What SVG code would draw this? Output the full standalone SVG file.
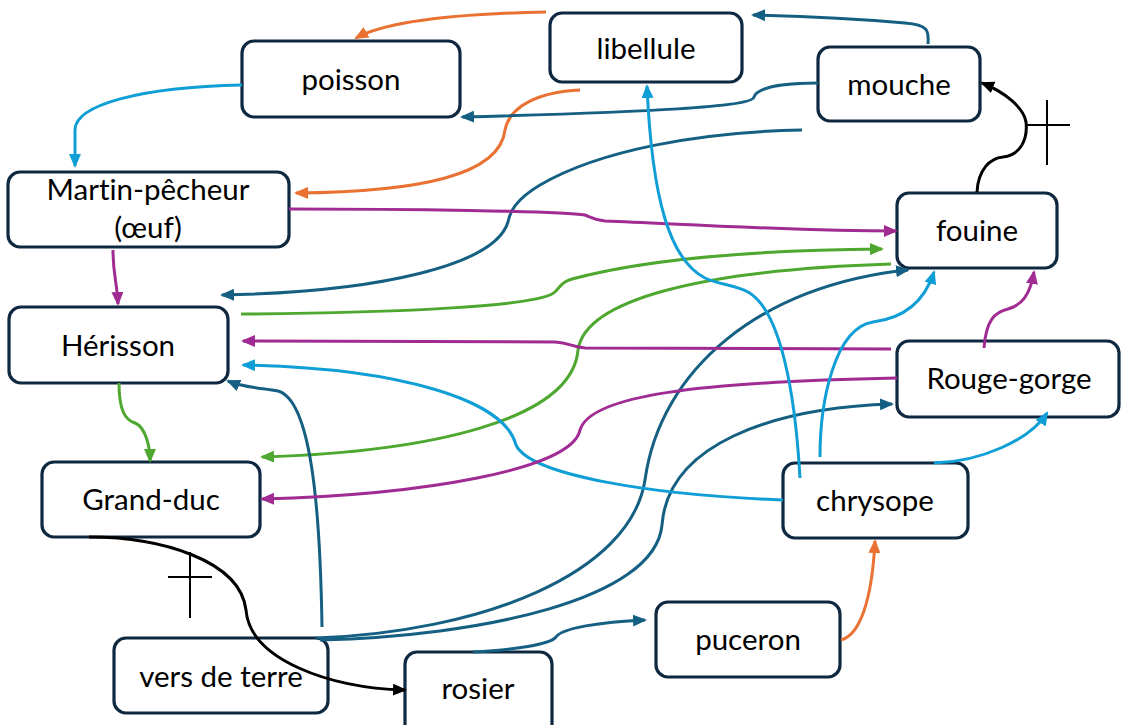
<svg xmlns="http://www.w3.org/2000/svg" width="1121" height="725" viewBox="0 0 1121 725">
<style>
.box{fill:#fff;stroke:#0E2841;stroke-width:3.2}
.lbl{font-family:Lato,"Open Sans",sans-serif;font-size:29.5px;fill:#000;text-anchor:middle;font-variant-ligatures:none;font-feature-settings:"liga" 0,"dlig" 0}
.c{fill:none;stroke-width:3}
.db{stroke:#156082}.or{stroke:#E97132}.lb{stroke:#0F9ED5}.pu{stroke:#A02B93}.gr{stroke:#4EA72E}.bk{stroke:#000}
.cross{fill:none;stroke:#000;stroke-width:2}
</style>
<defs>
<marker id="adb" markerUnits="userSpaceOnUse" viewBox="0 0 14 12" markerWidth="14" markerHeight="12" refX="12" refY="6" orient="auto"><path d="M0,0L14,6L0,12z" fill="#156082"/></marker>
<marker id="aor" markerUnits="userSpaceOnUse" viewBox="0 0 14 12" markerWidth="14" markerHeight="12" refX="12" refY="6" orient="auto"><path d="M0,0L14,6L0,12z" fill="#E97132"/></marker>
<marker id="alb" markerUnits="userSpaceOnUse" viewBox="0 0 14 12" markerWidth="14" markerHeight="12" refX="12" refY="6" orient="auto"><path d="M0,0L14,6L0,12z" fill="#0F9ED5"/></marker>
<marker id="apu" markerUnits="userSpaceOnUse" viewBox="0 0 14 12" markerWidth="14" markerHeight="12" refX="12" refY="6" orient="auto"><path d="M0,0L14,6L0,12z" fill="#A02B93"/></marker>
<marker id="agr" markerUnits="userSpaceOnUse" viewBox="0 0 14 12" markerWidth="14" markerHeight="12" refX="12" refY="6" orient="auto"><path d="M0,0L14,6L0,12z" fill="#4EA72E"/></marker>
<marker id="abk" markerUnits="userSpaceOnUse" viewBox="0 0 14 12" markerWidth="14" markerHeight="12" refX="12" refY="6" orient="auto"><path d="M0,0L14,6L0,12z" fill="#000"/></marker>
</defs>
<rect width="1121" height="725" fill="#fff"/>
<g id="nodes">
<g id="poisson"><rect class="box" x="242" y="41" width="218" height="76" rx="12"/><text class="lbl" x="351" y="90">poisson</text></g>
<g id="libellule"><rect class="box" x="550" y="13" width="192" height="69" rx="12"/><text class="lbl" x="646" y="59">libellule</text></g>
<g id="mouche"><rect class="box" x="818" y="47" width="162" height="74" rx="12"/><text class="lbl" x="899" y="95">mouche</text></g>
<g id="martin"><rect class="box" x="8" y="172" width="281" height="75" rx="12"/><text class="lbl" x="148" y="200">Martin-pêcheur</text><text class="lbl" x="148" y="238">(œuf)</text></g>
<g id="fouine"><rect class="box" x="897" y="193" width="160" height="75" rx="12"/><text class="lbl" x="977" y="241">fouine</text></g>
<g id="herisson"><rect class="box" x="9" y="307" width="219" height="76" rx="12"/><text class="lbl" x="118" y="356">Hérisson</text></g>
<g id="rougegorge"><rect class="box" x="897" y="341" width="222" height="76" rx="12"/><text class="lbl" x="1009" y="389">Rouge-gorge</text></g>
<g id="grandduc"><rect class="box" x="42" y="462" width="218" height="75" rx="12"/><text class="lbl" x="151" y="510">Grand-duc</text></g>
<g id="chrysope"><rect class="box" x="783" y="463" width="185" height="75" rx="12"/><text class="lbl" x="875" y="511">chrysope</text></g>
<g id="puceron"><rect class="box" x="656" y="602" width="184" height="75" rx="12"/><text class="lbl" x="748" y="650">puceron</text></g>
<g id="vers"><rect class="box" x="114" y="638" width="214" height="75" rx="12"/><text class="lbl" x="221" y="687">vers de terre</text></g>
<g id="rosier"><rect class="box" x="405" y="652" width="147" height="85" rx="12"/><text class="lbl" x="478" y="699">rosier</text></g>
</g>
<g id="connectors">
<path class="c or" d="M546,12 C450,14 385,22 356,38" marker-end="url(#aor)"/>
<path class="c lb" d="M242,85 C140,87 75,105 75,130 L75,166" marker-end="url(#alb)"/>
<path class="c or" d="M580,90 C540,92 510,105 505,130 C500,175 420,192 296,193" marker-end="url(#aor)"/>
<path class="c db" d="M818,83 C780,83 757,88 754,97 C752,107 650,112 462,117" marker-end="url(#adb)"/>
<path class="c db" d="M802,130 C700,132 600,150 540,185 C515,200 510,212 508,222 C495,265 380,292 222,295" marker-end="url(#adb)"/>
<path class="c pu" d="M289,209 C400,209 560,211 585,215 C592,218 595,220 605,221 C700,225 800,231 896,231" marker-end="url(#apu)"/>
<path class="c pu" d="M113,250 C113,275 117,282 118,304" marker-end="url(#apu)"/>
<path class="c gr" d="M241,314 C400,313 530,306 552,294 C560,290 558,283 572,279 C650,258 760,250 882,249" marker-end="url(#agr)"/>
<path class="c gr" d="M891,264 C700,270 585,300 578,350 C572,420 430,452 262,457" marker-end="url(#agr)"/>
<path class="c db" d="M316,638 C480,632 630,575 645,480 C660,370 760,285 908,270" marker-end="url(#adb)"/>
<path class="c db" d="M320,640 C480,636 655,600 662,525 C668,445 770,408 892,404" marker-end="url(#adb)"/>
<path class="c db" d="M322,627 C320,500 310,400 278,391 C262,388 245,388 228,381" marker-end="url(#adb)"/>
<path class="c pu" d="M891,349 L585,348 C572,347 570,343 555,342 L243,341" marker-end="url(#apu)"/>
<path class="c lb" d="M783,500 C650,495 530,475 516,445 C505,400 400,368 243,365" marker-end="url(#alb)"/>
<path class="c pu" d="M897,378 C700,382 590,395 580,430 C572,470 420,495 262,499" marker-end="url(#apu)"/>
<path class="c lb" d="M800,478 C795,390 780,310 748,292 C735,285 720,285 705,278 C670,260 652,200 647,86" marker-end="url(#alb)"/>
<path class="c lb" d="M820,457 C820,400 835,328 873,322 C905,318 925,300 934,272" marker-end="url(#alb)"/>
<path class="c lb" d="M934,463 C980,462 1030,440 1047,413" marker-end="url(#alb)"/>
<path class="c pu" d="M984,348 C986,320 995,312 1008,309 C1022,305 1030,295 1034,272" marker-end="url(#apu)"/>
<path class="c bk" d="M977,192 C978,170 990,158 1003,157 C1020,155 1028,140 1026,122 C1024,108 1005,92 982,83" marker-end="url(#abk)"/>
<path class="cross" d="M1047,100 V165 M1025,125 H1070"/>
<path class="c db" d="M928,44 C929,30 928,25 905,23 C850,18 800,16 753,15" marker-end="url(#adb)"/>
<path class="c gr" d="M119,383 C119,410 125,420 135,423 C145,427 150,445 150,461" marker-end="url(#agr)"/>
<path class="c bk" d="M89,537 C160,537 240,560 246,610 C250,660 330,688 405,690" marker-end="url(#abk)"/>
<path class="cross" d="M190,552 V618 M168,577 H212"/>
<path class="c db" d="M473,652 C510,650 550,645 556,637 C562,628 600,622 645,620" marker-end="url(#adb)"/>
<path class="c or" d="M841,640 C860,635 872,600 875,541" marker-end="url(#aor)"/>
</g>
</svg>
